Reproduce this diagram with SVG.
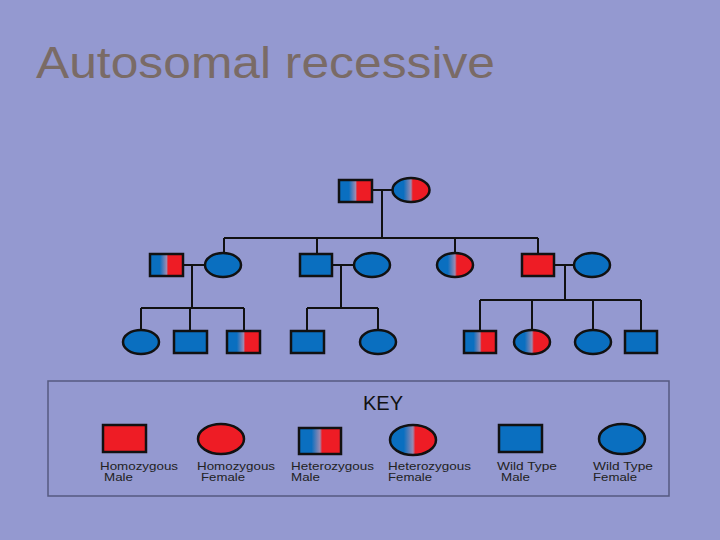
<svg xmlns="http://www.w3.org/2000/svg" width="720" height="540" viewBox="0 0 720 540">
<defs>
<linearGradient id="het" x1="0" y1="0" x2="1" y2="0">
<stop offset="0.3" stop-color="#0a6fc0"/><stop offset="0.5" stop-color="#9a8ab0"/><stop offset="0.55" stop-color="#ee1c25"/>
</linearGradient>
</defs>
<style>
.s{stroke:#111;stroke-width:2.5}
.b{fill:#0a6fc0}.r{fill:#ee1c25}.h{fill:url(#het)}
.ln{stroke:#111;stroke-width:2;fill:none}
.k{font-family:"Liberation Sans",Arial,sans-serif;font-size:11px;fill:#222}
</style>
<rect width="720" height="540" fill="#9499d0"/>
<text x="36" y="78" font-family="Liberation Sans,Arial,sans-serif" font-size="44" fill="#7a6b66" textLength="459" lengthAdjust="spacingAndGlyphs">Autosomal recessive</text>
<g id="connectors" class="ln">
<path d="M372 190H392M382 190V238M224 238H538M224 238V254M317 238V254M455 238V253M538 238V254"/>
<path d="M183 265H205M192 265V308M141 308H244M141 308V330M190 308V331M244 308V331"/>
<path d="M332 265H354M341 265V308M307 308H378M307 308V331M378 308V330"/>
<path d="M554 265H574M565 265V300M480 300H641M480 300V331M532 300V330M593 300V330M641 300V331"/>
</g>
<g id="g1m"><rect class="s h" x="339" y="180" width="33" height="22"/></g>
<g id="g1f"><ellipse class="s h" cx="411" cy="190" rx="18.5" ry="12"/></g>
<g id="g2a"><rect class="s h" x="150" y="254" width="33" height="22"/></g>
<g id="g2b"><ellipse class="s b" cx="223" cy="265" rx="18" ry="12"/></g>
<g id="g2c"><rect class="s b" x="300" y="254" width="32" height="22"/></g>
<g id="g2d"><ellipse class="s b" cx="372" cy="265" rx="18" ry="12"/></g>
<g id="g2e"><ellipse class="s h" cx="455" cy="265" rx="18" ry="12"/></g>
<g id="g2f"><rect class="s r" x="522" y="254" width="32" height="22"/></g>
<g id="g2g"><ellipse class="s b" cx="592" cy="265" rx="18" ry="12"/></g>
<g id="g3a"><ellipse class="s b" cx="141" cy="342" rx="18" ry="12"/></g>
<g id="g3b"><rect class="s b" x="174" y="331" width="33" height="22"/></g>
<g id="g3c"><rect class="s h" x="227" y="331" width="33" height="22"/></g>
<g id="g3d"><rect class="s b" x="291" y="331" width="33" height="22"/></g>
<g id="g3e"><ellipse class="s b" cx="378" cy="342" rx="18" ry="12"/></g>
<g id="g3f"><rect class="s h" x="464" y="331" width="32" height="22"/></g>
<g id="g3g"><ellipse class="s h" cx="532" cy="342" rx="18" ry="12"/></g>
<g id="g3h"><ellipse class="s b" cx="593" cy="342" rx="18" ry="12"/></g>
<g id="g3i"><rect class="s b" x="625" y="331" width="32" height="22"/></g>
<g id="key">
<rect x="48" y="381" width="621" height="115" fill="none" stroke="#555a80" stroke-width="1.5"/>
<text x="383" y="410" text-anchor="middle" font-family="Liberation Sans,Arial,sans-serif" font-size="20" fill="#111">KEY</text>
<rect class="s r" x="103" y="425" width="43" height="27"/>
<ellipse class="s r" cx="221" cy="439" rx="23" ry="15"/>
<rect class="s h" x="299" y="428" width="42" height="26"/>
<ellipse class="s h" cx="413" cy="440" rx="23" ry="15"/>
<rect class="s b" x="499" y="425" width="43" height="27"/>
<ellipse class="s b" cx="622" cy="439" rx="23" ry="15"/>
<text class="k" x="100" y="470" textLength="78" lengthAdjust="spacingAndGlyphs">Homozygous</text><text class="k" x="104" y="481" textLength="29" lengthAdjust="spacingAndGlyphs">Male</text>
<text class="k" x="197" y="470" textLength="78" lengthAdjust="spacingAndGlyphs">Homozygous</text><text class="k" x="201" y="481" textLength="44" lengthAdjust="spacingAndGlyphs">Female</text>
<text class="k" x="291" y="470" textLength="83" lengthAdjust="spacingAndGlyphs">Heterozygous</text><text class="k" x="291" y="481" textLength="29" lengthAdjust="spacingAndGlyphs">Male</text>
<text class="k" x="388" y="470" textLength="83" lengthAdjust="spacingAndGlyphs">Heterozygous</text><text class="k" x="388" y="481" textLength="44" lengthAdjust="spacingAndGlyphs">Female</text>
<text class="k" x="497" y="470" textLength="60" lengthAdjust="spacingAndGlyphs">Wild Type</text><text class="k" x="501" y="481" textLength="29" lengthAdjust="spacingAndGlyphs">Male</text>
<text class="k" x="593" y="470" textLength="60" lengthAdjust="spacingAndGlyphs">Wild Type</text><text class="k" x="593" y="481" textLength="44" lengthAdjust="spacingAndGlyphs">Female</text>
</g>
</svg>
